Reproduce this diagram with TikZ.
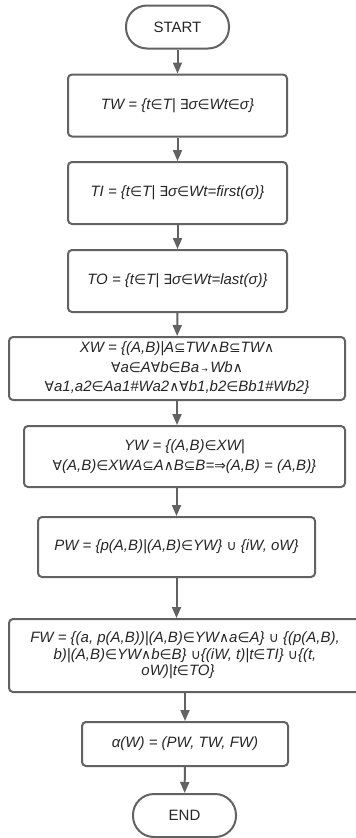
\documentclass[tikz,border=0pt]{standalone}
\usepackage{fontspec}
\setmainfont{Liberation Sans}
\newfontfamily\symf{DejaVu Sans}[Scale=0.92]
\usetikzlibrary{arrows.meta}
% upright symbol glyphs taken from DejaVu Sans
\newcommand\sy[1]{{\symf\upshape #1}}
\newcommand\IN{\sy{∈}}
\newcommand\EX{\sy{∃}}
\newcommand\ALL{\sy{∀}}
\newcommand\SUB{\sy{⊆}}
\newcommand\AND{\sy{∧}}
\newcommand\CUP{\sy{∪}}
\newcommand\IMP{\sy{⇒}}
\newcommand\SMALLTO{{\symf\upshape\fontsize{8}{8}\selectfont →}}
\definecolor{edge}{HTML}{626262}
\definecolor{ink}{HTML}{262626}
\begin{document}
\begin{tikzpicture}[x=1pt,y=-1pt,
  box/.style={draw=edge,line width=2pt,rounded corners=4pt,fill=white,
    text=ink,align=center,inner sep=0pt,
    font=\fontsize{15}{19.5}\selectfont\itshape},
  term/.style={box,rounded corners=21pt,font=\fontsize{15}{19.5}\selectfont\upshape},
  arr/.style={draw=edge,line width=2pt,-{Triangle[width=9pt,length=11pt]}}]
\useasboundingbox (0,0) rectangle (356,838);

\node[term,minimum width=103pt,minimum height=43pt] (start) at (177.5,27) {START};
\node[box,minimum width=219pt,minimum height=62pt] (tw) at (177.5,105.5)
  {TW = \{t\IN T| \EX σ\IN Wt\IN σ\}};
\node[box,minimum width=219pt,minimum height=62pt] (ti) at (177.5,193)
  {TI = \{t\IN T| \EX σ\IN Wt=first(σ)\}};
\node[box,minimum width=219pt,minimum height=62pt] (to) at (177.5,281)
  {TO = \{t\IN T| \EX σ\IN Wt=last(σ)\}};
\node[box,minimum width=336pt,minimum height=63pt] (xw) at (177,368.5)
  {XW = \{(A,B)|A\SUB TW\AND B\SUB TW\AND\\
   \ALL a\IN A\ALL b\IN Ba\,\SMALLTO\,Wb\AND\\
   \ALL a1,a2\IN Aa1\#Wa2\AND\ALL b1,b2\IN Bb1\#Wb2\}};
\node[box,minimum width=321pt,minimum height=61pt] (yw) at (184.5,456.5)
  {YW = \{(A,B)\IN XW|\\
   \ALL(A,B)\IN XWA\SUB A\AND B\SUB B=\IMP(A,B) = (A,B)\}};
\node[box,minimum width=277pt,minimum height=60pt] (pw) at (176.5,547)
  {PW = \{p(A,B)|(A,B)\IN YW\} \CUP\ \{iW, oW\}};
% the last box runs past the right margin; its text sits a little high
\node[box,minimum width=352pt,minimum height=73pt] (fw) at (185,655.5)
  {\raisebox{6pt}{\fontsize{15}{18}\selectfont
   \begin{tabular}{@{}c@{}}
   FW = \{(a, p(A,B))|(A,B)\IN YW\AND a\IN A\} \CUP\ \{(p(A,B),\\[-1.5pt]
   b)|(A,B)\IN YW\AND b\IN B\} \CUP\{(iW, t)|t\IN TI\} \CUP\{(t,\\[-1.5pt]
   oW)|t\IN TO\}\hspace{14pt}
   \end{tabular}}};
\node[box,minimum width=206pt,minimum height=44pt] (alpha) at (185,744)
  {α(W) = (PW, TW, FW)};
\node[term,minimum width=103pt,minimum height=43pt] (end) at (184.5,815.5) {END};

\draw[arr] (start) -- (tw);
\draw[arr] (tw) -- (ti);
\draw[arr] (ti) -- (to);
\draw[arr] (to) -- (xw);
\draw[arr] (xw.south) -- (xw.south |- yw.north);
\draw[arr] (pw.north |- yw.south) -- (pw.north);
\draw[arr] (pw.south) -- (pw.south |- fw.north);
\draw[arr] (alpha.north |- fw.south) -- (alpha.north);
\draw[arr] (alpha) -- (end);
\end{tikzpicture}
\end{document}
